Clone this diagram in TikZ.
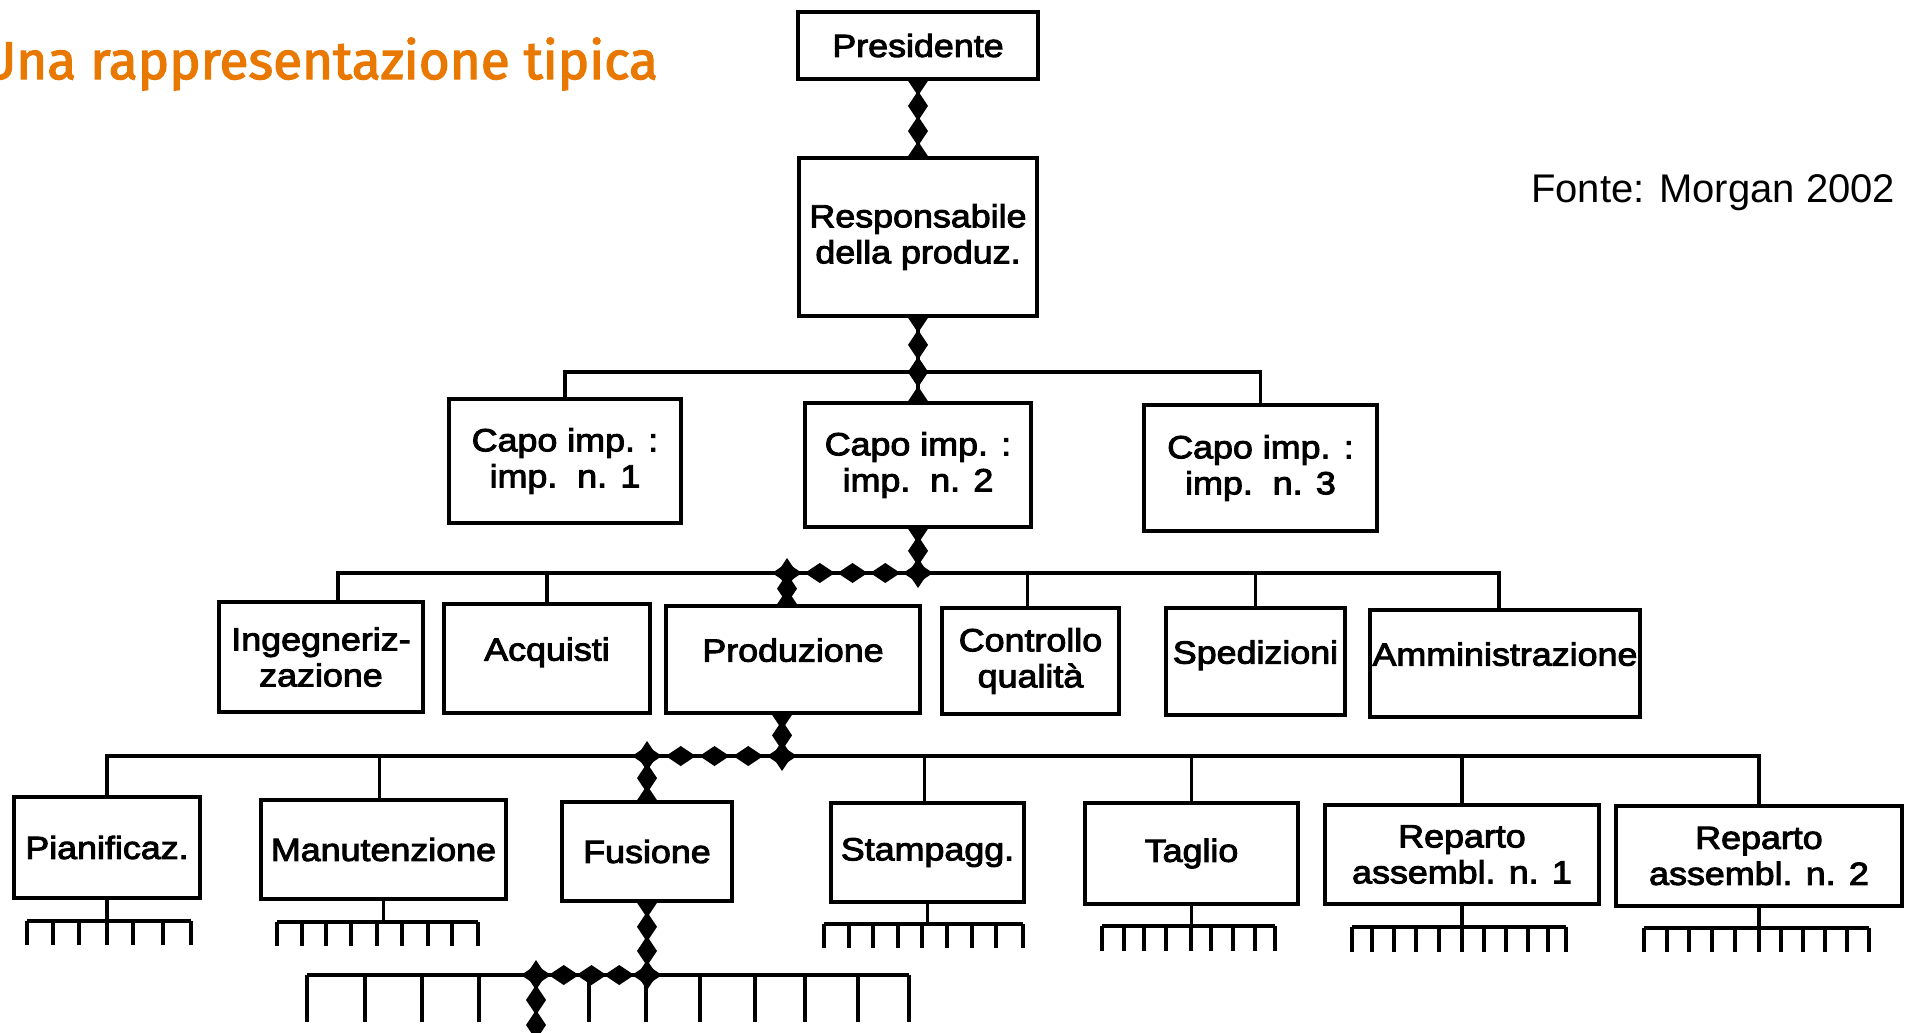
\documentclass[tikz,border=0pt]{standalone}
\usepackage{fontspec}
\setmainfont{Liberation Sans}
\newfontfamily\boxfont[FakeStretch=1.12,FakeBold=3]{Liberation Sans}
\newfontfamily\titlefont[FakeBold=2.5]{Fira Sans}
\usetikzlibrary{decorations.markings,backgrounds}
\definecolor{titleorange}{HTML}{E87800}

% a box given by its left, top, right and bottom edges
\newcommand\orgbox[7][]{%
  \node[box, #1, minimum width={#5-#3}, minimum height={#6-#4}] (#2)
    at ({(#3+#5)/2},{(#4+#6)/2}) {#7};}

% a comb of small ticks under a box: node, bus y, tick end y, first x, last x, tick list
\newcommand\comb[6]{%
  \coordinate (cb-#1) at (0,#2);
  \draw[conn] (#1.south) -- (#1.south |- cb-#1);
  \draw[conn] (#4,#2) -- (#5,#2);
  \foreach \tx in {#6} \draw[conn] (\tx,#2) -- (\tx,#3);}

\begin{document}
\begin{tikzpicture}[x=1pt,y=-1pt,
  box/.style={draw, line width=3.5pt, fill=white, inner sep=0pt, align=center,
    font=\boxfont\fontsize{32}{36}\selectfont},
  raised/.style={text depth=19pt},
  conn/.style={line width=3.2pt},
  beads/.style={conn, postaction={decorate, decoration={markings,
    mark=between positions 0 and 1 step #1 with
      {\fill (-15pt,0pt) -- (0pt,10pt) -- (15pt,0pt) -- (0pt,-10pt) -- cycle;}}}}
]
\useasboundingbox (0,0) rectangle (1906,1033);

% headings
\node[anchor=base west, inner sep=0pt, text=titleorange,
  font=\titlefont\fontsize{53}{58}\selectfont] (title) at (-19,79) {Una rappresentazione tipica};
\node[anchor=base west, inner sep=0pt, font=\fontsize{40}{44}\selectfont] (src) at (1531,202) {Fonte: Morgan 2002};

% level 0 and 1
\orgbox{pres}{798}{12}{1038}{79}{Presidente}
\orgbox{resp}{799}{158}{1037}{316}{Responsabile\\della produz.}

% plant heads
\orgbox{capo1}{449}{399}{681}{523}{Capo imp. :\\imp.~~n. 1}
\orgbox{capo2}{805}{403}{1031}{527}{Capo imp. :\\imp.~~n. 2}
\orgbox{capo3}{1144}{405}{1377}{531}{Capo imp. :\\imp.~~n. 3}

% functions
\orgbox{ing}{219}{602}{423}{712}{Ingegneriz-\\zazione}
\orgbox[raised]{acq}{444}{604}{650}{713}{Acquisti}
\orgbox[raised]{prod}{666}{606}{920}{713}{Produzione}
\orgbox{cq}{942}{608}{1119}{714}{Controllo\\qualità}
\orgbox[raised]{sped}{1166}{608}{1345}{715}{Spedizioni}
\orgbox[raised]{amm}{1370}{610}{1640}{717}{Amministrazione}

% departments
\orgbox{pian}{14}{797}{200}{898}{Pianificaz.}
\orgbox{man}{261}{800}{506}{899}{Manutenzione}
\orgbox{fus}{562}{802}{732}{901}{Fusione}
\orgbox{stam}{831}{803}{1024}{902}{Stampagg.}
\orgbox{tag}{1085}{803}{1298}{904}{Taglio}
\orgbox{rep1}{1325}{805}{1599}{904}{Reparto\\assembl. n. 1}
\orgbox{rep2}{1616}{806}{1902}{906}{Reparto\\assembl. n. 2}

% bus junctions
\coordinate (b2) at (918,372);
\coordinate (j3a) at (918,573);
\coordinate (j3b) at (787,573);
\coordinate (j4a) at (782,756);
\coordinate (j4b) at (647,756);
\coordinate (j5a) at (647,975);
\coordinate (j5b) at (536,975);
\coordinate (j5c) at (536,1050);

\begin{pgfonlayer}{background}
  % line of command, drawn as a chain of beads
  \draw[beads=0.3333] (pres.south) -- (resp.north);
  \draw[beads=0.5] (resp.south) -- (b2);
  \draw[beads=1] (b2) -- (capo2.north);
  \draw[beads=0.5] (capo2.south) -- (j3a);
  \draw[beads=0.25] (j3a) -- (j3b);
  \draw[beads=0.5] (j3b) -- (j3b |- prod.north);
  \draw[beads=0.5] ([xshift=-11pt]prod.south) -- (j4a);
  \draw[beads=0.25] (j4a) -- (j4b);
  \draw[beads=0.5] (j4b) -- (fus.north);
  \draw[beads=0.3333] (fus.south) -- (j5a);
  \draw[beads=0.25] (j5a) -- (j5b);
  \draw[beads=0.3333] (j5b) -- (j5c);

  % plain tree lines
  \draw[conn] (capo1.north) |- (b2) -| (capo3.north);
  \draw[conn] ([xshift=17pt]ing.north) |- (j3a) -| ([xshift=-6pt]amm.north);
  \draw[conn] (acq.north) -- (acq.north |- j3a);
  \draw[conn] ([xshift=-3pt]cq.north) -- ([xshift=-3pt]cq.north |- j3a);
  \draw[conn] (sped.north) -- (sped.north |- j3a);
  \draw[conn] (pian.north) |- (j4b) -| (rep2.north);
  \draw[conn] ([xshift=-4pt]man.north) -- ([xshift=-4pt]man.north |- j4b);
  \draw[conn] ([xshift=-3pt]stam.north) -- ([xshift=-3pt]stam.north |- j4b);
  \draw[conn] (tag.north) -- (tag.north |- j4b);
  \draw[conn] (rep1.north) -- (rep1.north |- j4b);

  % work groups under the departments
  \draw[conn] (307,975) -- (909,975);
  \foreach \tx in {307,365,422,479,589,646,700,755,805,858,909}
    \draw[conn] (\tx,975) -- (\tx,1022);
  \comb{pian}{921}{945}{27}{191}{27,53,79,107,133,163,191}
  \comb{man}{922}{946}{277}{478}{277,302,326,351,377,402,428,452,478}
  \comb{stam}{924}{948}{824}{1023}{824,849,873,898,922,947,972,996,1023}
  \comb{tag}{926}{951}{1102}{1275}{1102,1124,1144,1166,1191,1211,1233,1255,1275}
  \comb{rep1}{927}{952}{1352}{1566}{1352,1372,1394,1416,1439,1462,1484,1506,1528,1548,1566}
  \comb{rep2}{928}{952}{1644}{1869}{1644,1667,1689,1712,1735,1759,1781,1803,1825,1847,1869}
\end{pgfonlayer}
\end{tikzpicture}
\end{document}
